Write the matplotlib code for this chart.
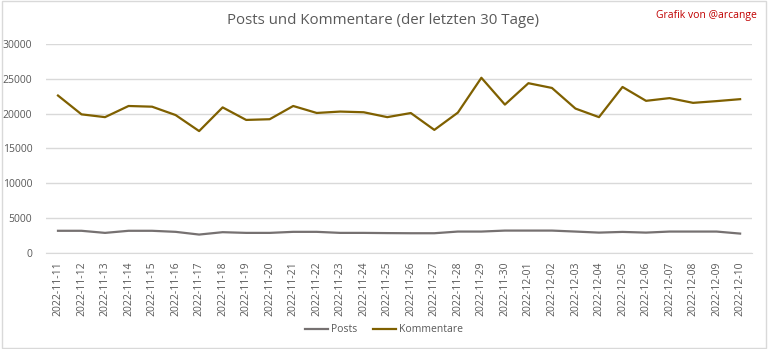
import matplotlib
matplotlib.use('Agg')
import matplotlib.pyplot as plt
from matplotlib.patches import Rectangle

# data
dates = ['2022-11-11', '2022-11-12', '2022-11-13', '2022-11-14', '2022-11-15',
         '2022-11-16', '2022-11-17', '2022-11-18', '2022-11-19', '2022-11-20',
         '2022-11-21', '2022-11-22', '2022-11-23', '2022-11-24', '2022-11-25',
         '2022-11-26', '2022-11-27', '2022-11-28', '2022-11-29', '2022-11-30',
         '2022-12-01', '2022-12-02', '2022-12-03', '2022-12-04', '2022-12-05',
         '2022-12-06', '2022-12-07', '2022-12-08', '2022-12-09', '2022-12-10']
posts = [3190, 3190, 2890, 3190, 3190, 3040, 2650, 2990, 2890, 2890,
         3040, 3040, 2890, 2890, 2860, 2840, 2840, 3080, 3080, 3220,
         3220, 3220, 3080, 2930, 3030, 2930, 3080, 3080, 3080, 2790]
kommentare = [22600, 19900, 19500, 21100, 21000, 19800, 17500, 20900, 19100, 19200,
              21100, 20100, 20300, 20200, 19500, 20090, 17670, 20150, 25150, 21300,
              24370, 23690, 20730, 19500, 23830, 21840, 22230, 21550, 21800, 22080]
yticks = [0, 5000, 10000, 15000, 20000, 25000, 30000]

plt.rcParams['font.family'] = ['Open Sans', 'DejaVu Sans']
text_grey = '#595959'
grid_grey = '#D9D9D9'

fig = plt.figure(figsize=(7.68, 3.49), dpi=100)
ax = fig.add_axes([0.0602, 0.275, 0.9188, 0.599])

x = list(range(len(dates)))
ax.plot(x, posts, color='#767171', lw=1.6, label='Posts')
ax.plot(x, kommentare, color='#7F6000', lw=1.6, label='Kommentare')

ax.set_xlim(-0.5, len(dates) - 0.5)
ax.set_ylim(0, 30000)
ax.set_yticks(yticks)
ax.set_yticklabels([str(v) for v in yticks])
ax.set_xticks(x)
ax.set_xticklabels(dates, rotation=90)
ax.tick_params(length=0, colors=text_grey, labelsize=7.5)
ax.tick_params(axis='y', pad=10)
ax.tick_params(axis='x', pad=6)

ax.grid(axis='y', color=grid_grey, lw=1)
ax.set_axisbelow(True)
for s in ['top', 'right', 'left']:
    ax.spines[s].set_visible(False)
ax.spines['bottom'].set_color(grid_grey)

fig.text(0.499, 0.94, 'Posts und Kommentare (der letzten 30 Tage)',
         ha='center', va='center', fontsize=10.8, color=text_grey)
fig.text(0.985, 0.955, 'Grafik von @arcange', ha='right', va='center',
         fontsize=7.5, color='#C00000')

fig.legend(loc='center', bbox_to_anchor=(0.5, 0.055), ncol=2, frameon=False,
           fontsize=7.5, handlelength=2.2, columnspacing=1.5, handletextpad=0.3,
           labelcolor=text_grey)

fig.patches.append(Rectangle((0.002, 0.004), 0.995, 0.992, transform=fig.transFigure,
                             fill=False, edgecolor=grid_grey, lw=1))

fig.savefig('out.png', dpi=100)
